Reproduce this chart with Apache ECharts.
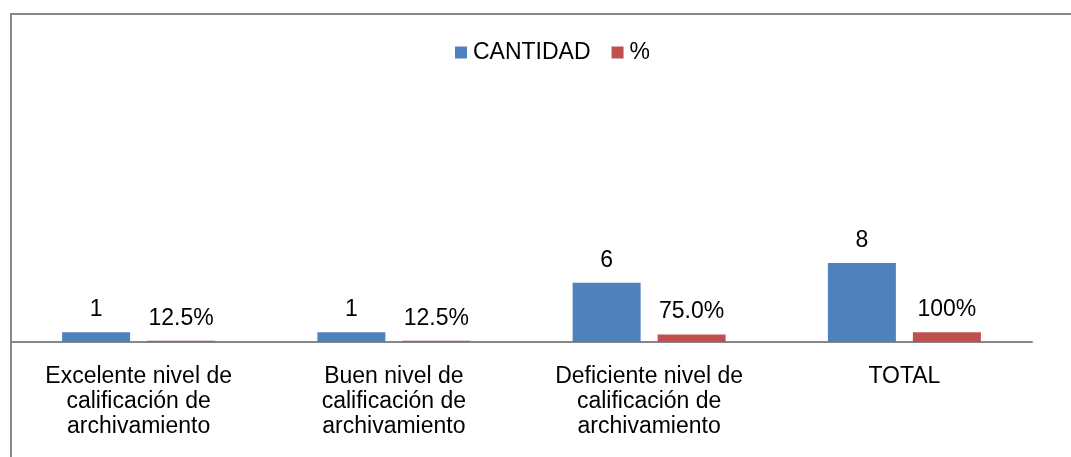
<!DOCTYPE html>
<html>
<head>
<meta charset="utf-8">
<script src="https://cdn.jsdelivr.net/npm/echarts@6/dist/echarts.min.js"></script>
<style>
html,body{margin:0;padding:0;background:#fff;}
#chart{width:1071px;height:457px;}
</style>
</head>
<body>
<div id="chart"></div>
<script>
const categories = [
  'Excelente nivel de\ncalificación de\narchivamiento',
  'Buen nivel de\ncalificación de\narchivamiento',
  'Deficiente nivel de\ncalificación de\narchivamiento',
  'TOTAL'
];
const cantidad = [1, 1, 6, 8];
const porcentaje = [0.125, 0.125, 0.75, 1.0];
const porcentajeLabels = ['12.5%', '12.5%', '75.0%', '100%'];
const seriesNames = ['CANTIDAD', '%'];

const FONT = '"Liberation Sans", Arial, sans-serif';
const chart = echarts.init(document.getElementById('chart'), null, {renderer: 'canvas'});
chart.setOption({
  animation: false,
  backgroundColor: '#ffffff',
  graphic: [{
    type: 'rect',
    shape: {x: 11, y: 14, width: 1200, height: 600},
    style: {fill: 'none', stroke: '#878787', lineWidth: 2},
    silent: true,
    z: -10
  }],
  legend: {
    data: seriesNames,
    top: 36,
    left: 450,
    itemWidth: 12,
    itemHeight: 12,
    itemGap: 21,
    icon: 'rect',
    textStyle: {fontFamily: FONT, fontSize: 23, color: '#000', padding: [0, 0, 0, 1]}
  },
  grid: {left: 11, right: 39, top: 46, bottom: 115, containLabel: false},
  xAxis: {
    type: 'category',
    data: categories,
    axisLine: {show: true, lineStyle: {color: '#878787', width: 2}},
    axisTick: {show: false},
    axisLabel: {fontFamily: FONT, fontSize: 23, color: '#000', lineHeight: 25, margin: 22, interval: 0, align: 'center'}
  },
  yAxis: {
    type: 'value',
    min: 0,
    max: 30,
    show: false,
    splitLine: {show: false}
  },
  series: [
    {
      name: seriesNames[0],
      type: 'bar',
      data: cantidad,
      barWidth: 68,
      barGap: '25%',
      itemStyle: {color: '#4F81BD'},
      label: {show: true, position: 'top', distance: 11, fontFamily: FONT, fontSize: 23, color: '#000'}
    },
    {
      name: seriesNames[1],
      type: 'bar',
      data: porcentaje,
      barWidth: 68,
      barGap: '25%',
      itemStyle: {color: '#C0504D'},
      label: {show: true, position: 'top', distance: 11, fontFamily: FONT, fontSize: 23, color: '#000',
        formatter: p => porcentajeLabels[p.dataIndex]}
    }
  ]
});
</script>
</body>
</html>
